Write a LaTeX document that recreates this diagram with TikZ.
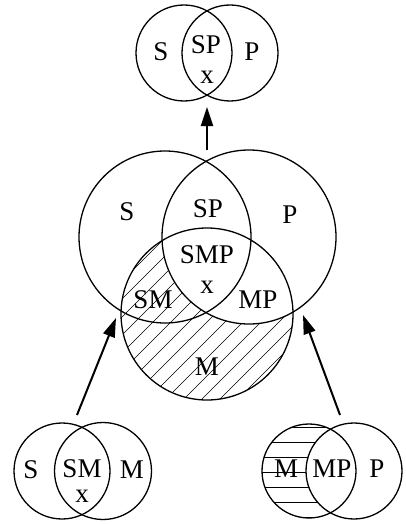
\documentclass[tikz,border=0pt]{standalone}
\usepackage{fontspec}
\setmainfont{Liberation Serif}
\usetikzlibrary{arrows.meta}
\begin{document}
\begin{tikzpicture}[x=1pt,y=-1pt,
  ring/.style={draw, line width=1.3pt, circle, inner sep=0pt, outer sep=0pt},
  lbl/.style={font=\fontsize{27}{27}\selectfont, inner sep=0pt},
  arr/.style={-{Triangle[length=19pt,width=12pt]}, line width=2pt},
  hatch/.style={line width=0.6pt}]
\useasboundingbox (0,0) rectangle (405,524);
% ---- middle hatching: M minus P ----
\begin{scope}[even odd rule]
  \clip (207,314) circle[radius=86pt];
  \clip (0,0) rectangle (405,524) (249,237) circle[radius=87pt];
  \foreach \k in {-15,...,15} {
    \draw[hatch] (565+18*\k-434,434) -- (565+18*\k-194,194);
  }
\end{scope}
% ---- bottom-right hatching: M minus P ----
\begin{scope}[even odd rule]
  \clip (309,471) circle[radius=47pt];
  \clip (0,0) rectangle (405,524) (354,471) circle[radius=48pt];
  \foreach \yy in {427,442,...,517} {
    \draw[hatch] (250,\yy) -- (360,\yy);
  }
\end{scope}
% ---- top diagram ----
\node[ring, minimum size=96pt] (tS) at (184,53) {};
\node[ring, minimum size=96pt] (tP) at (230,53) {};
\node[lbl] (tSl) at (161,52) {S};
\node[lbl] (tSPl) at (206,45) {SP};
\node[lbl] (tPl) at (252,52) {P};
\node[lbl] (tx) at (207,77) {x};
% ---- middle diagram ----
\node[ring, minimum size=172pt] (mS) at (165,237) {};
\node[ring, minimum size=174pt] (mP) at (249,237) {};
\node[ring, minimum size=172pt] (mM) at (207,314) {};
\node[lbl] (mSl) at (127,212) {S};
\node[lbl] (mSPl) at (208,209) {SP};
\node[lbl] (mPl) at (290,215) {P};
\node[lbl] (mSMPl) at (207,255) {SMP};
\node[lbl] (mx) at (207,287) {x};
\node[lbl] (mSMl) at (153,300) {SM};
\node[lbl] (mMPl) at (258,300) {MP};
\node[lbl] (mMl) at (207,367) {M};
% ---- bottom-left diagram ----
\node[ring, minimum size=96pt] (lS) at (62,471) {};
\node[ring, minimum size=97pt] (lM) at (103,471) {};
\node[lbl] (lSl) at (31,470) {S};
\node[lbl] (lSMl) at (82,469) {SM};
\node[lbl] (lMl) at (132,470) {M};
\node[lbl] (lx) at (82,496) {x};
% ---- bottom-right diagram ----
\node[ring, minimum size=94pt] (rM) at (309,471) {};
\node[ring, minimum size=96pt] (rP) at (354,471) {};
\node[lbl] (rMl) at (286,469) {M};
\node[lbl] (rMPl) at (332,469) {MP};
\node[lbl] (rPl) at (377,469) {P};
% ---- arrows ----
\coordinate (aT0) at (207,150); \coordinate (aT1) at (207,107);
\coordinate (aL0) at (77,415);  \coordinate (aL1) at (116,318);
\coordinate (aR0) at (340,415); \coordinate (aR1) at (303,315);
\draw[arr] (aT0) -- (aT1);
\draw[arr] (aL0) -- (aL1);
\draw[arr] (aR0) -- (aR1);
\end{tikzpicture}
\end{document}
